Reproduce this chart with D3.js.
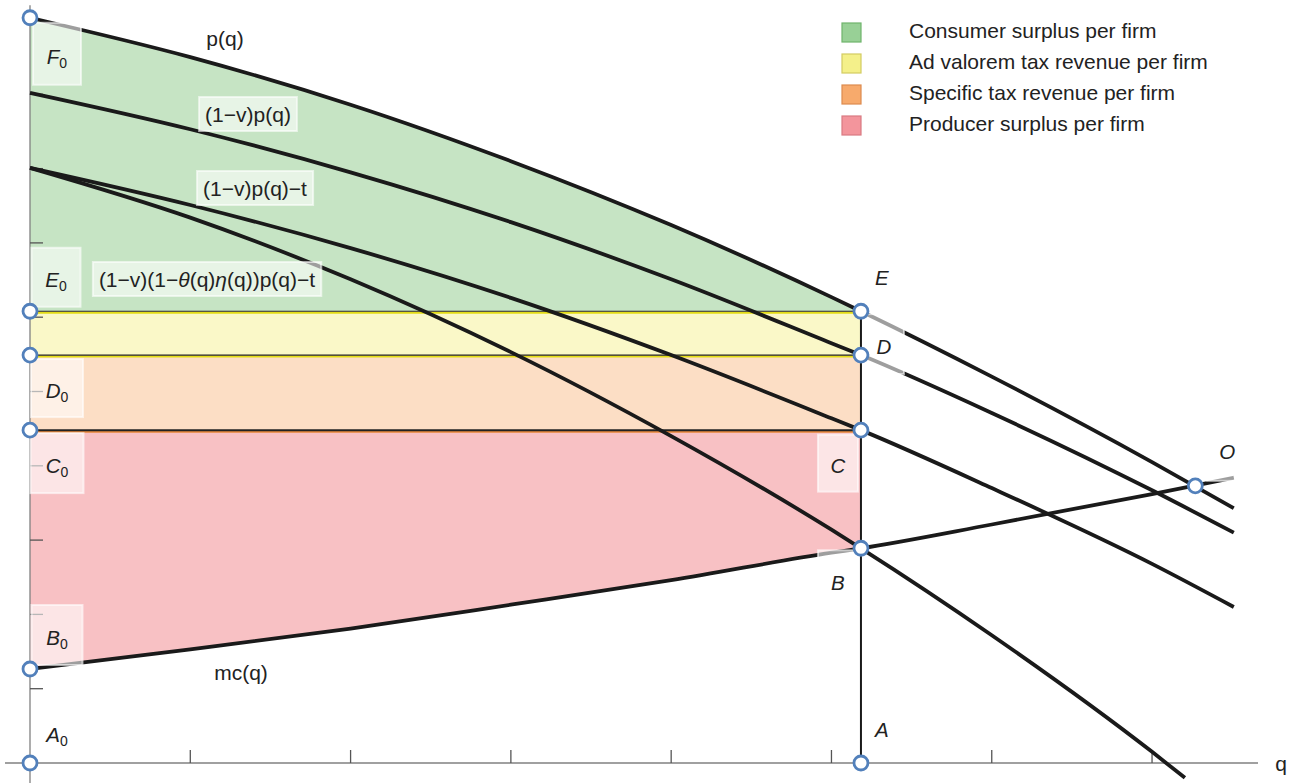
<!DOCTYPE html>
<html>
<head>
<meta charset="utf-8">
<script src="https://cdn.jsdelivr.net/npm/d3@7"></script>
<style>
  body { margin: 0; background: #fff; }
  svg text { font-family: "Liberation Sans", Arial, sans-serif; fill: #222; }
</style>
</head>
<body>
<div id="chart"></div>
<script>
const qGrid = [0, 1, 2, 3, 4, 5, 5.184, 6, 7, 7.51];
const qLow = [0, 1, 2, 3, 4, 5, 5.184, 6, 7, 7.205];

// curve values
const pVals   = [10.03, 9.50, 8.86, 8.10, 7.24, 6.27, 6.08, 5.20, 4.05, 3.43];
const pvVals  = [9.02, 8.53, 7.95, 7.28, 6.51, 5.65, 5.49, 4.71, 3.67, 3.10];
const pvtVals = [8.01, 7.51, 6.93, 6.26, 5.49, 4.64, 4.48, 3.70, 2.68, 2.10];
const lowVals = [8.01, 7.34, 6.51, 5.53, 4.40, 3.14, 2.89, 1.72, 0.15, -0.20];
const mcVals  = [1.265, 1.53, 1.81, 2.13, 2.46, 2.83, 2.89, 3.21, 3.62, 3.84];

// equilibrium quantity and price levels
const qE = 5.184;
const qO = 7.27;
const levelF0 = 10.03, levelE0 = 6.08, levelD0 = 5.49, levelC0 = 4.48, levelB = 2.89, levelB0 = 1.265, levelO = 3.73;

const xTicks = [1, 2, 3, 4, 5, 6, 7];
const yTicks = [1, 2, 3, 4, 5, 6, 7, 8, 9, 10];

const legendNames = ["Consumer surplus per firm", "Ad valorem tax revenue per firm",
                     "Specific tax revenue per firm", "Producer surplus per firm"];
const legendFill   = ["#98d096", "#f4f08a", "#f7aa6c", "#f3959c"];
const legendStroke = ["#6fb46c", "#d2cb62", "#dc8b4f", "#d97b82"];

const width = 1301, height = 783;

const svg = d3.select("#chart")
    .append("svg")
    .attr("width", width)
    .attr("height", height);

const x = d3.scaleLinear().domain([0, 7.661]).range([30, 1258]);
const y = d3.scaleLinear().domain([0, 10]).range([763, 20]);

const toPts = (qs, vs) => qs.map((q, i) => ({q: q, v: vs[i]}));
const pPts = toPts(qGrid, pVals);
const pvPts = toPts(qGrid, pvVals);
const pvtPts = toPts(qGrid, pvtVals);
const lowPts = toPts(qLow, lowVals);
const mcPts = toPts(qGrid, mcVals);

const line = d3.line().x(d => x(d.q)).y(d => y(d.v)).curve(d3.curveMonotoneX);

// clip fills to the region left of the equilibrium quantity
svg.append("clipPath").attr("id", "leftOfE")
  .append("rect")
    .attr("x", x(0)).attr("y", 0)
    .attr("width", x(qE) - x(0)).attr("height", height);

// consumer surplus
svg.append("path")
    .datum(pPts)
    .attr("clip-path", "url(#leftOfE)")
    .attr("fill", "#c6e4c4")
    .attr("d", d3.area().x(d => x(d.q)).y0(y(levelE0)).y1(d => y(d.v)).curve(d3.curveMonotoneX));

// ad valorem tax band
svg.append("rect")
    .attr("x", x(0)).attr("y", y(levelE0))
    .attr("width", x(qE) - x(0)).attr("height", y(levelD0) - y(levelE0))
    .attr("fill", "#faf8c8");

// specific tax band
svg.append("rect")
    .attr("x", x(0)).attr("y", y(levelD0))
    .attr("width", x(qE) - x(0)).attr("height", y(levelC0) - y(levelD0))
    .attr("fill", "#fcdec5");

// producer surplus
svg.append("path")
    .datum(mcPts)
    .attr("clip-path", "url(#leftOfE)")
    .attr("fill", "#f8c1c4")
    .attr("d", d3.area().x(d => x(d.q)).y0(d => y(d.v)).y1(y(levelC0)).curve(d3.curveMonotoneX));

// band edges
const edges = svg.append("g");
[[levelE0, "#e3dc16"], [levelD0, "#e3dc16"], [levelC0, "#e8873a"]].forEach(([lv, c]) => {
  edges.append("line")
      .attr("x1", x(0)).attr("x2", x(qE))
      .attr("y1", y(lv) + 1.5).attr("y2", y(lv) + 1.5)
      .attr("stroke", c).attr("stroke-width", 2);
  edges.append("line")
      .attr("x1", x(0)).attr("x2", x(qE))
      .attr("y1", y(lv)).attr("y2", y(lv))
      .attr("stroke", "#222").attr("stroke-width", lv === levelC0 ? 2 : 1.2);
});

// axes
const axes = svg.append("g").attr("stroke", "#808080").attr("stroke-width", 1.3);
axes.append("line")
    .attr("x1", x(-0.156)).attr("x2", x(7.661))
    .attr("y1", y(0)).attr("y2", y(0));
axes.append("line")
    .attr("x1", x(0)).attr("x2", x(0))
    .attr("y1", y(10.2)).attr("y2", height);
axes.selectAll(".xt").data(xTicks).enter().append("line")
    .attr("x1", d => x(d)).attr("x2", d => x(d))
    .attr("y1", y(0)).attr("y2", y(0) - 13)
    .attr("stroke", "#555");
axes.selectAll(".yt").data(yTicks).enter().append("line")
    .attr("x1", x(0)).attr("x2", x(0) + 13)
    .attr("y1", d => y(d)).attr("y2", d => y(d))
    .attr("stroke", "#555");

// vertical line at the equilibrium quantity
svg.append("line")
    .attr("x1", x(qE)).attr("x2", x(qE))
    .attr("y1", y(levelE0)).attr("y2", y(0))
    .attr("stroke", "#1a1a1a").attr("stroke-width", 2);

// curves
svg.append("g")
  .selectAll("path")
  .data([pPts, pvPts, pvtPts, lowPts, mcPts])
  .enter().append("path")
    .attr("d", line)
    .attr("fill", "none")
    .attr("stroke", "#1a1a1a")
    .attr("stroke-width", 3.8)
    .attr("stroke-linecap", "butt");

// labels: anchor point, offset of text centre, box
const labels = [
  {t: "F", sub: "0", q: 0, v: levelF0, dx: 27, dy: 39, box: [48, 62]},
  {t: "E", sub: "0", q: 0, v: levelE0, dx: 26, dy: -31, box: [49, 59]},
  {t: "D", sub: "0", q: 0, v: levelD0, dx: 27, dy: 36, box: [52, 58]},
  {t: "C", sub: "0", q: 0, v: levelC0, dx: 27, dy: 36, box: [53, 60]},
  {t: "B", sub: "0", q: 0, v: levelB0, dx: 27, dy: -31, box: [51, 60]},
  {t: "A", sub: "0", q: 0, v: 0, dx: 27, dy: -28, box: null},
  {t: "E", q: qE, v: levelE0, dx: 21, dy: -33, box: [40, 58]},
  {t: "D", q: qE, v: levelD0, dx: 23, dy: -8, box: [40, 60]},
  {t: "C", q: qE, v: levelC0, dx: -23, dy: 36, box: [40, 57]},
  {t: "B", q: qE, v: levelB, dx: -23, dy: 35, box: [40, 60]},
  {t: "A", q: qE, v: 0, dx: 21, dy: -33, box: null},
  {t: "O", q: qO, v: levelO, dx: 32, dy: -34, box: [40, 64]}
];

const formulaLabels = [
  {t: "p(q)", px: 225, py: 38, box: false},
  {t: "(1\u2212v)p(q)", px: 248, py: 114, box: true},
  {t: "(1\u2212v)p(q)\u2212t", px: 255, py: 188, box: true},
  {t: "(1\u2212v)(1\u2212", it1: "\u03b8", m1: "(q)", it2: "\u03b7", m2: "(q))p(q)\u2212t", px: 207, py: 279, box: true},
  {t: "mc(q)", px: 241, py: 672, box: false}
];

const labelG = svg.append("g");
labels.forEach(d => {
  const cx = x(d.q) + d.dx, cy = y(d.v) + d.dy;
  if (d.box) {
    labelG.append("rect")
        .attr("x", cx - d.box[0] / 2).attr("y", cy - 3 - d.box[1] / 2)
        .attr("width", d.box[0]).attr("height", d.box[1])
        .attr("fill", "#fff").attr("fill-opacity", 0.58)
        .attr("stroke", "#fff").attr("stroke-opacity", 0.6).attr("stroke-width", 2);
  }
  const tx = labelG.append("text")
      .attr("x", cx).attr("y", cy + 7)
      .attr("text-anchor", "middle")
      .style("font-size", "20.5px");
  tx.append("tspan").style("font-style", "italic").text(d.t);
  if (d.sub) {
    tx.append("tspan").attr("dy", 4).style("font-size", "14px").text(d.sub);
  }
});

formulaLabels.forEach(d => {
  const g = labelG.append("g");
  const tx = g.append("text")
      .attr("x", d.px).attr("y", d.py + 7.5)
      .attr("text-anchor", "middle")
      .style("font-size", "21px");
  tx.append("tspan").text(d.t);
  if (d.it1) {
    tx.append("tspan").style("font-style", "italic").text(d.it1);
    tx.append("tspan").text(d.m1);
    tx.append("tspan").style("font-style", "italic").text(d.it2);
    tx.append("tspan").text(d.m2);
  }
  if (d.box) {
    const bb = tx.node().getBBox();
    g.insert("rect", "text")
        .attr("x", bb.x - 6).attr("y", d.py - 17)
        .attr("width", bb.width + 12).attr("height", 34)
        .attr("fill", "#fff").attr("fill-opacity", 0.58)
        .attr("stroke", "#fff").attr("stroke-opacity", 0.6).attr("stroke-width", 2);
  }
});

// axis label
svg.append("text")
    .attr("x", 1281).attr("y", y(0) + 8)
    .attr("text-anchor", "middle")
    .style("font-size", "21px")
    .text("q");

// points
const pts = [
  [0, levelF0], [0, levelE0], [0, levelD0], [0, levelC0], [0, levelB0], [0, 0],
  [qE, levelE0], [qE, levelD0], [qE, levelC0], [qE, levelB], [qE, 0], [qO, levelO]
];
svg.append("g")
  .selectAll("circle")
  .data(pts)
  .enter().append("circle")
    .attr("cx", d => x(d[0]))
    .attr("cy", d => y(d[1]))
    .attr("r", 7)
    .attr("fill", "#fff")
    .attr("stroke", "#5280bb")
    .attr("stroke-width", 2.8);

// legend
const legend = svg.append("g").attr("transform", "translate(842,0)");
const item = legend.selectAll("g")
  .data(legendNames)
  .enter().append("g")
    .attr("transform", (d, i) => `translate(0,${32 + i * 31})`);
item.append("rect")
    .attr("x", 0).attr("y", -9)
    .attr("width", 19).attr("height", 19)
    .attr("fill", (d, i) => legendFill[i])
    .attr("stroke", (d, i) => legendStroke[i])
    .attr("stroke-width", 1.2);
item.append("text")
    .attr("x", 67).attr("y", 5.5)
    .style("font-size", "21px")
    .text(d => d);
</script>
</body>
</html>
